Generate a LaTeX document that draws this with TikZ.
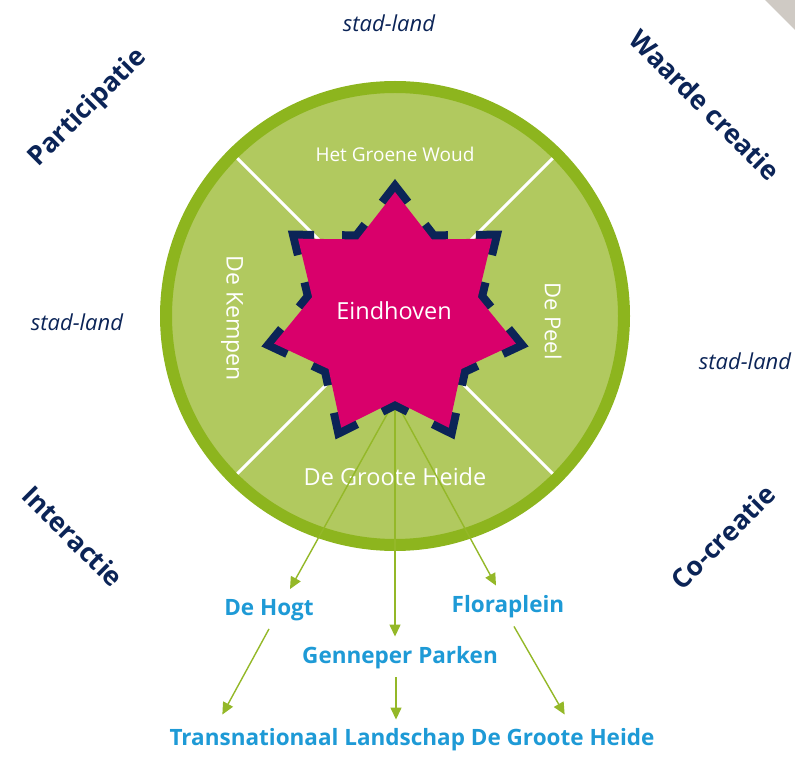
\documentclass[tikz,border=0pt]{standalone}
\usepackage{fontspec}
\setmainfont{Open Sans}
\usetikzlibrary{arrows.meta,positioning}
\definecolor{leaf}{HTML}{B1C95F}
\definecolor{rim}{HTML}{8DB51E}
\definecolor{stem}{HTML}{94B828}
\definecolor{rose}{HTML}{D9006B}
\definecolor{navy}{HTML}{0B2457}
\definecolor{sky}{HTML}{1E9AD6}
\definecolor{corner}{HTML}{CFCAC4}
\tikzset{
  region/.style = {text=white, font=\fontsize{19}{22}\selectfont},
  theme/.style  = {text=navy, font=\bfseries\fontsize{26.5}{30}\selectfont},
  tie/.style    = {text=navy, font=\itshape\fontsize{22}{26}\selectfont},
  place/.style  = {text=sky, font=\bfseries\fontsize{22.5}{26}\selectfont, inner sep=0pt},
  link/.style   = {-{Triangle[length=12pt,width=11pt]}, draw=stem, line width=1.4pt},
  starpath/.style = {insert path={([shift={(-18.43,100.3)}]c)
      foreach \k in {0,...,6}{ -- ([shift={(115.71+51.4286*\k:85)}]c) -- ([shift={(141.43+51.4286*\k:124)}]c) } -- cycle}},
}
\begin{document}
\begin{tikzpicture}[x=1pt,y=1pt]
    \useasboundingbox (0,0) rectangle (795,756);
    \fill[corner] (765,756) -- (795,756) -- (795,726) -- cycle;
    \coordinate (c) at (395,440);
    \coordinate (hub) at (395,356);

    % wheel
    \fill[leaf] (c) circle (229);
    \draw[rim, line width=12pt] (c) circle (229);
    \draw[white, line width=3pt] ([shift={(45:223)}]c) -- ([shift={(225:223)}]c);
    \draw[white, line width=3pt] ([shift={(135:223)}]c) -- ([shift={(315:223)}]c);

    \node[region] (woud) at (395,602) {Het Groene Woud};
    \node[region, font=\fontsize{23.5}{27}\selectfont] (heide) at (395,279) {De Groote Heide};
    \node[region, font=\fontsize{23}{27}\selectfont, rotate=-90] (kempen) at (232,438) {De Kempen};
    \node[region, font=\fontsize{22}{26}\selectfont, rotate=-90] (peel) at (553,435) {De Peel};

    % places
    \node[place] (hogt) at (269,146) {De Hogt};
    \node[place] (flora) at (508,149) {Floraplein};
    \node[place] (genneper) at (400,98) {Genneper Parken};
    \node[place] (trans) at (412,16) {Transnationaal Landschap De Groote Heide};

    \draw[link] (hub) -- ([xshift=21pt,yshift=10pt]hogt.north);
    \draw[link] (hub) -- ([xshift=-5pt,yshift=10pt]genneper.north);
    \draw[link] (hub) -- ([xshift=-12pt,yshift=10pt]flora.north);
    \draw[link] ([yshift=-8pt]hogt.south) -- ([xshift=53pt,yshift=14pt]trans.north west);
    \draw[link] ([xshift=-4pt,yshift=-8pt]genneper.south) -- ([xshift=-16pt,yshift=9pt]trans.north);
    \draw[link] ([xshift=6pt,yshift=-8pt]flora.south) -- ([xshift=-90pt,yshift=14pt]trans.north east);

    % star
    \draw[navy, line width=16pt, miter limit=20, dash pattern=on 32pt off 28.07pt, dash phase=46.035pt, starpath];
    \fill[rose, starpath];
    \node[region, font=\fontsize{23.5}{27}\selectfont] (eindhoven) at (394,445) {Eindhoven};

    % themes
    \node[theme, rotate=45] (participatie) at (88,648) {Participatie};
    \node[theme, rotate=-45] (waarde) at (705,651) {Waarde creatie};
    \node[theme, rotate=-45] (interactie) at (73,220) {Interactie};
    \node[theme, rotate=45] (cocreatie) at (723,219) {Co-creatie};
    \node[tie] (top) at (389,733) {stad-land};
    \node[tie] (left) at (77,434) {stad-land};
    \node[tie] (right) at (745,395) {stad-land};
\end{tikzpicture}
\end{document}
